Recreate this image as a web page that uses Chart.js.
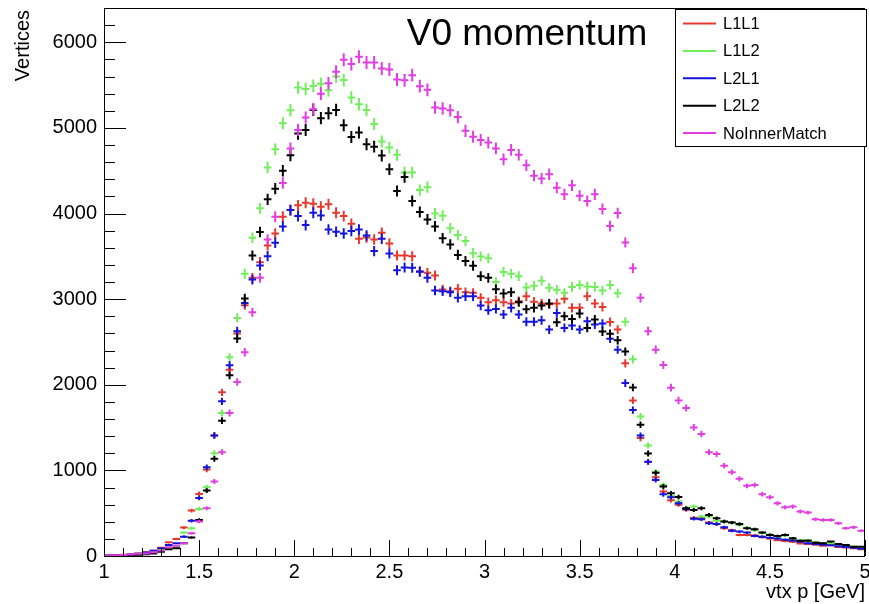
<!DOCTYPE html>
<html>
<head>
<meta charset="utf-8">
<script src="https://cdn.jsdelivr.net/npm/chart.js@4.4.1/dist/chart.umd.min.js"></script>
<style>
body { margin: 0; background: #fff; }
#wrap { width: 869px; height: 604px; }
</style>
</head>
<body>
<div id="wrap"><canvas id="vtxChart" width="869" height="604"></canvas></div>
<script>
// bin centres of the momentum histogram (bin width 0.04 GeV)
var binCenters = [
  1.02,1.06,1.10,1.14,1.18,1.22,1.26,1.30,1.34,1.38,
  1.42,1.46,1.50,1.54,1.58,1.62,1.66,1.70,1.74,1.78,
  1.82,1.86,1.90,1.94,1.98,2.02,2.06,2.10,2.14,2.18,
  2.22,2.26,2.30,2.34,2.38,2.42,2.46,2.50,2.54,2.58,
  2.62,2.66,2.70,2.74,2.78,2.82,2.86,2.90,2.94,2.98,
  3.02,3.06,3.10,3.14,3.18,3.22,3.26,3.30,3.34,3.38,
  3.42,3.46,3.50,3.54,3.58,3.62,3.66,3.70,3.74,3.78,
  3.82,3.86,3.90,3.94,3.98,4.02,4.06,4.10,4.14,4.18,
  4.22,4.26,4.30,4.34,4.38,4.42,4.46,4.50,4.54,4.58,
  4.62,4.66,4.70,4.74,4.78,4.82,4.86,4.90,4.94,4.98
];
var binHalfWidth = 0.02;

var l1l1 = [
  5,10,15,20,30,45,60,95,160,199,
  332,530,725,1010,1408,1911,2176,2600,2929,3249,
  3432,3627,3767,3962,4040,4095,4126,4115,4080,4107,
  4009,3970,3880,3705,3720,3697,3775,3650,3510,3510,
  3500,3327,3307,3276,3112,3093,3120,3081,3073,3015,
  2964,2987,2964,2948,2976,3034,2970,2950,2940,2950,
  3003,2898,2898,3034,2948,2909,2734,2644,2250,1817,
  1377,1098,920,753,650,600,540,445,441,390,
  374,324,300,246,246,240,220,205,185,175,
  165,145,140,130,120,125,105,100,90,80
];
var l1l2 = [
  5,8,12,18,25,35,50,70,100,109,
  273,324,550,803,1201,1669,2320,2781,3296,3717,
  4060,4536,4750,5054,5206,5472,5455,5490,5515,5440,
  5600,5558,5354,5275,5209,5045,4840,4770,4685,4480,
  4480,4274,4308,4000,3975,3828,3750,3678,3537,3498,
  3477,3200,3317,3297,3268,3137,3155,3215,3132,3110,
  3073,3143,3165,3147,3143,3100,3165,3070,2736,2297,
  1630,1291,983,830,700,636,558,577,460,460,
  413,402,390,363,330,300,270,250,230,240,
  200,180,185,160,150,150,135,120,110,100
];
var l2l1 = [
  5,8,12,18,25,40,60,90,129,148,
  226,413,678,1037,1408,1806,2227,2625,2956,3229,
  3393,3502,3658,3848,4040,3970,3865,4009,3978,3814,
  3787,3767,3795,3814,3744,3561,3705,3533,3338,3370,
  3366,3320,3249,3101,3093,3081,3015,3034,3034,2925,
  2870,2886,2820,2898,2820,2736,2736,2753,2644,2839,
  2664,2691,2644,2742,2703,2714,2537,2410,2020,1704,
  1406,1100,889,720,686,616,550,435,430,382,
  374,335,296,285,273,234,226,214,205,190,
  180,165,150,140,130,125,115,105,95,85
];
var l2l2 = [
  3,5,8,10,15,20,30,50,78,90,
  150,215,421,764,1135,1580,2110,2539,3007,3510,
  3783,4165,4290,4498,4680,4933,4976,5210,5113,5171,
  5210,5031,4894,4945,4809,4781,4676,4516,4263,4425,
  4146,4017,3931,3849,3711,3639,3516,3444,3389,3268,
  3249,3116,3065,3081,2964,2882,2898,2925,2948,2730,
  2800,2769,2831,2664,2761,2621,2595,2519,2387,1968,
  1533,1197,971,811,733,690,558,538,558,480,
  441,402,390,374,324,312,273,246,234,246,
  207,179,179,156,148,168,140,129,109,109
];
var noInnerMatch = [
  5,8,12,18,25,30,45,65,101,120,
  148,265,402,558,870,1213,1669,2032,2379,2847,
  3249,3697,3962,4356,4760,4976,5121,5218,5400,5520,
  5656,5795,5745,5830,5764,5764,5694,5682,5565,5555,
  5616,5487,5444,5238,5226,5205,5126,4965,4896,4859,
  4828,4760,4633,4742,4686,4563,4442,4409,4458,4302,
  4224,4329,4208,4146,4224,4052,3853,4005,3662,3360,
  3015,2625,2410,2231,1966,1816,1728,1502,1424,1213,
  1190,1053,979,901,819,829,722,685,616,569,
  577,519,507,429,421,421,382,324,335,296
];

var seriesNames = ["L1L1", "L1L2", "L2L1", "L2L2", "NoInnerMatch"];
var seriesColors = ["#e6392e", "#72ee5c", "#1414dc", "#000000", "#e23ce2"];
var seriesValues = [l1l1, l1l2, l2l1, l2l2, noInnerMatch];

var xTickValues = [1, 1.5, 2, 2.5, 3, 3.5, 4, 4.5, 5];
var yTickValues = [0, 1000, 2000, 3000, 4000, 5000, 6000];
var xMinorStep = 0.1;
var yMinorStep = 200;

var fontName = "'Liberation Sans', Arial, sans-serif";

function toPoints(vals) {
  return vals.map(function(v, i){ return {x: binCenters[i], y: v}; });
}

// ROOT-like drawing: error crosses, frame with inward ticks, title and legend box
var rootStyle = {
  id: "rootStyle",
  afterDatasetsDraw: function(chart) {
    var ctx = chart.ctx, xs = chart.scales.x, ys = chart.scales.y, a = chart.chartArea;
    ctx.save();
    ctx.beginPath();
    ctx.rect(a.left, a.top, a.right - a.left, a.bottom - a.top);
    ctx.clip();
    ctx.lineWidth = 2;
    chart.data.datasets.forEach(function(ds){
      ctx.strokeStyle = ds.borderColor;
      ctx.beginPath();
      ds.data.forEach(function(p){
        var err = Math.sqrt(p.y);
        var px = xs.getPixelForValue(p.x);
        var py = ys.getPixelForValue(p.y);
        ctx.moveTo(xs.getPixelForValue(p.x - binHalfWidth), py);
        ctx.lineTo(xs.getPixelForValue(p.x + binHalfWidth), py);
        ctx.moveTo(px, ys.getPixelForValue(p.y - err));
        ctx.lineTo(px, ys.getPixelForValue(p.y + err));
      });
      ctx.stroke();
    });
    ctx.restore();
  },
  afterDraw: function(chart) {
    var ctx = chart.ctx, xs = chart.scales.x, ys = chart.scales.y, a = chart.chartArea;
    ctx.save();

    // frame
    ctx.strokeStyle = "#000";
    ctx.lineWidth = 1;
    ctx.strokeRect(a.left + 0.5, a.top + 0.5, a.right - a.left - 1, a.bottom - a.top);

    // y ticks (inside, from the left axis)
    ctx.beginPath();
    for (var v = ys.min; v <= ys.max + 1e-6; v += yMinorStep) {
      var py = Math.round(ys.getPixelForValue(v)) + 0.5;
      var len = (v % 1000 === 0) ? 22 : 11;
      ctx.moveTo(a.left, py);
      ctx.lineTo(a.left + len, py);
    }
    // x ticks (inside, up from the bottom axis)
    for (var k = 0; k <= 40; k++) {
      var xv = xs.min + k * xMinorStep;
      var px = Math.round(xs.getPixelForValue(xv)) + 0.5;
      var tl = (k % 5 === 0) ? 16 : 8;
      ctx.moveTo(px, a.bottom);
      ctx.lineTo(px, a.bottom - tl);
    }
    ctx.stroke();

    // axis titles
    ctx.fillStyle = "#000";
    ctx.font = "20px " + fontName;
    ctx.textAlign = "right";
    ctx.textBaseline = "alphabetic";
    ctx.fillText("vtx p [GeV]", a.right, 598);
    ctx.save();
    ctx.translate(29, a.top + 2);
    ctx.rotate(-Math.PI / 2);
    ctx.fillText("Vertices", 0, 0);
    ctx.restore();

    // histogram title
    ctx.font = "37px " + fontName;
    ctx.textAlign = "center";
    ctx.fillText("V0 momentum", 527, 45);

    // legend box
    var lx = 675, ly = 9, lw = 191, lh = 137;
    ctx.fillStyle = "#fff";
    ctx.fillRect(lx, ly, lw, lh);
    ctx.strokeStyle = "#000";
    ctx.lineWidth = 1;
    ctx.strokeRect(lx + 0.5, ly + 0.5, lw, lh);
    ctx.font = "16.5px " + fontName;
    ctx.textAlign = "left";
    ctx.textBaseline = "middle";
    chart.data.datasets.forEach(function(ds, i){
      var yy = 23.5 + i * 27.4;
      ctx.strokeStyle = ds.borderColor;
      ctx.lineWidth = 2;
      ctx.beginPath();
      ctx.moveTo(683, yy);
      ctx.lineTo(716, yy);
      ctx.stroke();
      ctx.fillStyle = "#000";
      ctx.fillText(ds.label, 723, yy + 1);
    });
    ctx.restore();
  }
};

new Chart("vtxChart", {
  type: "scatter",
  data: {
    datasets: seriesValues.map(function(vals, i){
      return {
        label: seriesNames[i],
        data: toPoints(vals),
        borderColor: seriesColors[i],
        backgroundColor: seriesColors[i],
        pointRadius: 0,
        showLine: false
      };
    })
  },
  options: {
    responsive: false,
    animation: false,
    events: [],
    layout: {padding: {top: 8, right: 4, left: 0, bottom: 0}},
    plugins: {
      legend: {display: false},
      tooltip: {enabled: false},
      title: {display: false}
    },
    scales: {
      x: {
        type: "linear",
        min: 1,
        max: 5,
        grid: {display: false, drawTicks: false},
        border: {display: false},
        ticks: {
          padding: 4,
          maxRotation: 0,
          autoSkip: false,
          color: "#000",
          font: {family: fontName, size: 20},
          callback: function(v){ return String(v); }
        },
        afterBuildTicks: function(s){
          s.ticks = xTickValues.map(function(v){ return {value: v}; });
        },
        afterFit: function(s){
          s.height = 48;
          s.paddingLeft = 0;
          s.paddingRight = 0;
        }
      },
      y: {
        type: "linear",
        min: 0,
        max: 6400,
        grid: {display: false, drawTicks: false},
        border: {display: false},
        ticks: {
          padding: 7,
          color: "#000",
          font: {family: fontName, size: 20},
          callback: function(v){ return String(v); }
        },
        afterBuildTicks: function(s){
          s.ticks = yTickValues.map(function(v){ return {value: v}; });
        },
        afterFit: function(s){
          s.width = 104;
          s.paddingTop = 0;
          s.paddingBottom = 0;
        }
      }
    }
  },
  plugins: [rootStyle]
});
</script>
</body>
</html>
